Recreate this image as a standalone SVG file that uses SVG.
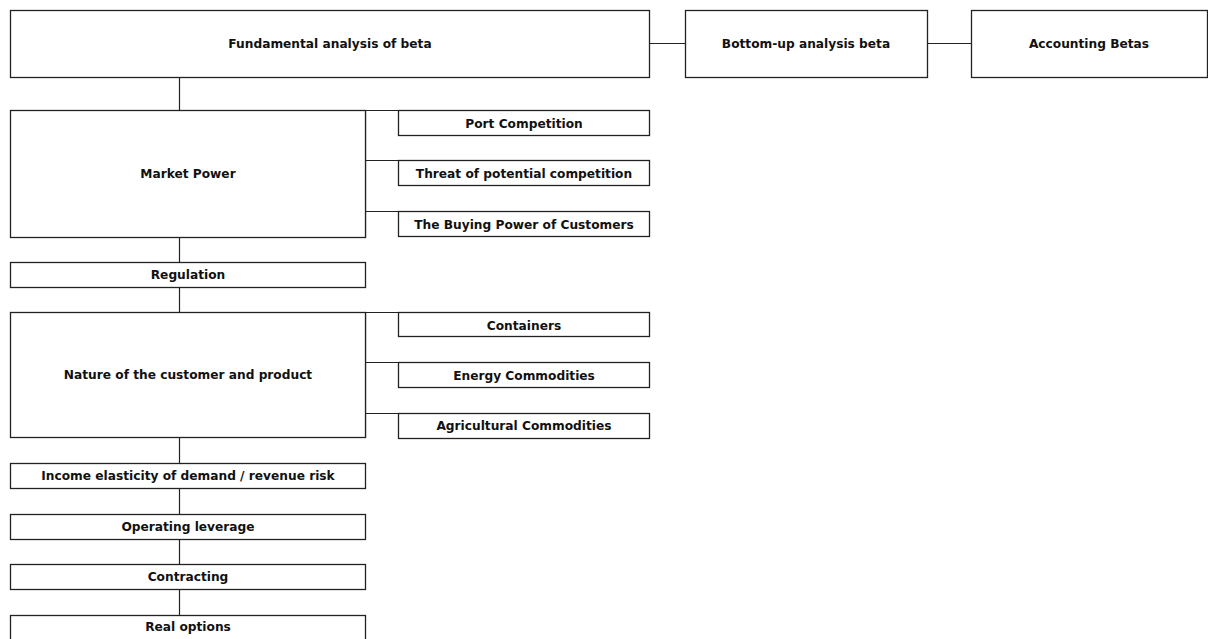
<svg xmlns="http://www.w3.org/2000/svg" width="1208" height="639" viewBox="0 0 1208 639">
<style>
rect{fill:#fff;stroke:#222;stroke-width:1.3}
text{font-family:"DejaVu Sans","Liberation Sans",sans-serif;font-weight:bold;font-size:12.2px;fill:#111;text-anchor:middle;dominant-baseline:central}
.c{stroke:#222;stroke-width:1.2;fill:none}
</style>
<g id="connectors">
<line class="c" x1="649.5" y1="43.5" x2="685.5" y2="43.5"/>
<line class="c" x1="927.5" y1="43.5" x2="971.5" y2="43.5"/>
<line class="c" x1="179.5" y1="77" x2="179.5" y2="110"/>
<line class="c" x1="179.5" y1="237" x2="179.5" y2="262"/>
<line class="c" x1="179.5" y1="287" x2="179.5" y2="312"/>
<line class="c" x1="179.5" y1="438" x2="179.5" y2="463"/>
<line class="c" x1="179.5" y1="489" x2="179.5" y2="514"/>
<line class="c" x1="179.5" y1="539" x2="179.5" y2="564"/>
<line class="c" x1="179.5" y1="590" x2="179.5" y2="615"/>
<path class="c" d="M365.5 110.5H398.5M365.5 160.5H398.5M365.5 211.5H398.5M365.5 110V237"/>
<path class="c" d="M365.5 312.5H398.5M365.5 362.5H398.5M365.5 413.5H398.5M365.5 312V438"/>
</g>
<g id="n1"><rect x="10.5" y="10.5" width="639" height="67"/><text x="330" y="44">Fundamental analysis of beta</text></g>
<g id="n2"><rect x="685.5" y="10.5" width="242" height="67"/><text x="806" y="44">Bottom-up analysis beta</text></g>
<g id="n3"><rect x="971.5" y="10.5" width="236" height="67"/><text x="1089" y="44">Accounting Betas</text></g>
<g id="n4"><rect x="10.5" y="110.5" width="355" height="127"/><text x="188" y="174">Market Power</text></g>
<g id="n5"><rect x="398.5" y="110.5" width="251" height="25"/><text x="524" y="124">Port Competition</text></g>
<g id="n6"><rect x="398.5" y="160.5" width="251" height="25"/><text x="524" y="174">Threat of potential competition</text></g>
<g id="n7"><rect x="398.5" y="211.5" width="251" height="25"/><text x="524" y="225">The Buying Power of Customers</text></g>
<g id="n8"><rect x="10.5" y="262.5" width="355" height="25"/><text x="188" y="275">Regulation</text></g>
<g id="n9"><rect x="10.5" y="312.5" width="355" height="125"/><text x="188" y="375">Nature of the customer and product</text></g>
<g id="n10"><rect x="398.5" y="312.5" width="251" height="24"/><text x="524" y="326">Containers</text></g>
<g id="n11"><rect x="398.5" y="362.5" width="251" height="25"/><text x="524" y="376">Energy Commodities</text></g>
<g id="n12"><rect x="398.5" y="413.5" width="251" height="25"/><text x="524" y="426">Agricultural Commodities</text></g>
<g id="n13"><rect x="10.5" y="463.5" width="355" height="25"/><text x="188" y="476">Income elasticity of demand / revenue risk</text></g>
<g id="n14"><rect x="10.5" y="514.5" width="355" height="25"/><text x="188" y="527">Operating leverage</text></g>
<g id="n15"><rect x="10.5" y="564.5" width="355" height="25"/><text x="188" y="577">Contracting</text></g>
<g id="n16"><rect x="10.5" y="615.5" width="355" height="26"/><text x="188" y="627">Real options</text></g>
</svg>
